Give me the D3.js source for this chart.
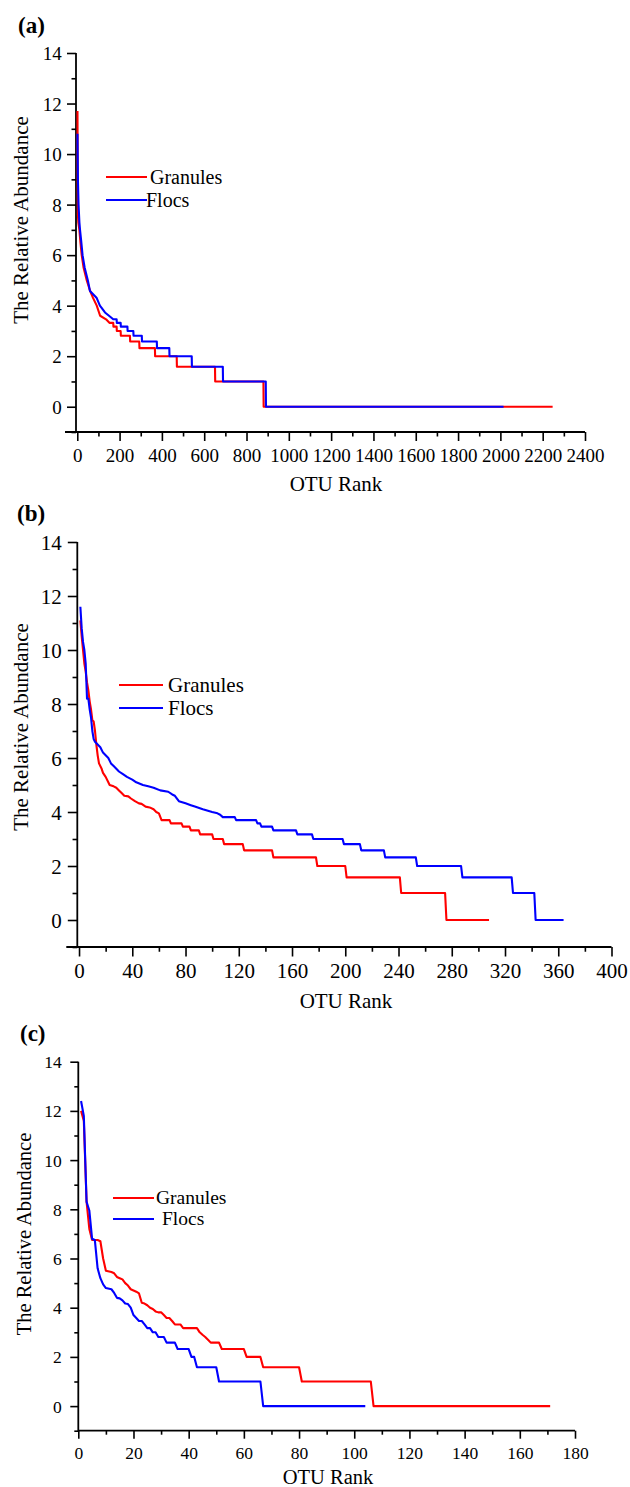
<!DOCTYPE html>
<html>
<head>
<meta charset="utf-8">
<script src="https://cdnjs.cloudflare.com/ajax/libs/d3/7.8.5/d3.min.js"></script>
</head>
<body style="margin:0; background:#fff">
<script>
// rank / abundance points, [OTU rank, value]
var granulesA = [[1,11.7],[2,9.0],[3,7.6],[5,7.3],[10,7.0],[15,6.5],[21,6.0],[30,5.5],[45,5.0],[60,4.6],[75,4.3],[92,4.0],[108,3.6],[136,3.46],[152,3.32],[170,3.32],[171,3.17],[186,3.17],[187,3.0],[205,3.0],[206,2.81],[249,2.81],[250,2.58],[293,2.58],[294,2.32],[367,2.32],[368,2.0],[470,2.0],[471,1.58],[651,1.58],[652,1.0],[880,1.0],[881,0],[2247,0]];
var flocsA = [[1,10.8],[3,9.0],[6,8.0],[10,7.3],[13,7.0],[18,6.6],[25,6.0],[35,5.5],[50,5.0],[60,4.58],[75,4.45],[92,4.3],[107,4.0],[131,3.73],[150,3.6],[170,3.46],[186,3.46],[187,3.32],[205,3.32],[206,3.17],[237,3.17],[238,3.0],[265,3.0],[266,2.81],[305,2.81],[306,2.58],[376,2.58],[377,2.32],[435,2.32],[436,2.0],[541,2.0],[542,1.58],[688,1.58],[689,1.0],[891,1.0],[892,0],[2015,0]];

var granulesB = [[1,11.1],[2,10.5],[3,10.0],[4,9.5],[5,9.2],[6,8.8],[7,8.5],[8,8.1],[9,7.8],[10,7.4],[11,7.35],[12,7.0],[13,6.5],[14,6.1],[15,5.8],[17,5.6],[18,5.45],[20,5.3],[22,5.1],[23,5.0],[26,4.95],[28,4.9],[30,4.8],[32,4.7],[34,4.6],[37,4.58],[39,4.5],[42,4.4],[45,4.32],[47,4.3],[50,4.2],[53,4.17],[56,4.1],[58,4.0],[60,3.95],[62,3.7],[68,3.7],[69,3.58],[77,3.58],[78,3.46],[83,3.46],[84,3.32],[90,3.32],[91,3.17],[100,3.17],[101,3.0],[108,3.0],[109,2.81],[123,2.81],[124,2.58],[145,2.58],[146,2.32],[178,2.32],[179,2.0],[200,2.0],[201,1.58],[241,1.58],[242,1.0],[275,1.0],[276,0],[308,0]];
var flocsB = [[1,11.6],[2,10.8],[3,10.3],[4,10.0],[5,9.5],[6,8.2],[7,8.2],[8,7.8],[9,7.5],[10,7.0],[11,6.7],[12,6.6],[14,6.5],[16,6.4],[18,6.2],[20,6.1],[22,6.0],[24,5.8],[26,5.7],[28,5.6],[30,5.5],[33,5.4],[36,5.3],[40,5.2],[43,5.1],[48,5.0],[52,4.95],[56,4.9],[61,4.8],[67,4.75],[70,4.65],[72,4.6],[75,4.4],[80,4.32],[84,4.25],[87,4.2],[93,4.1],[100,4.0],[104,3.95],[106,3.9],[108,3.81],[117,3.81],[118,3.7],[133,3.7],[134,3.58],[136,3.58],[137,3.46],[145,3.46],[146,3.32],[163,3.32],[164,3.17],[175,3.17],[176,3.0],[198,3.0],[199,2.81],[211,2.81],[212,2.58],[229,2.58],[230,2.32],[253,2.32],[254,2.0],[287,2.0],[288,1.58],[325,1.58],[326,1.0],[342,1.0],[343,0],[364,0]];

var granulesC = [[1,12.0],[2,11.6],[3,8.3],[4,7.2],[5,6.75],[7,6.75],[8,6.7],[9,6.0],[10,5.5],[12,5.45],[13,5.4],[14,5.25],[15,5.2],[16,5.15],[17,5.0],[18,4.9],[19,4.75],[20,4.7],[21,4.65],[22,4.58],[23,4.2],[24,4.17],[25,4.1],[26,4.0],[27,3.95],[28,3.85],[29,3.81],[30,3.81],[31,3.7],[32,3.58],[33,3.58],[34,3.46],[35,3.32],[37,3.32],[38,3.17],[43,3.17],[44,3.0],[45,2.9],[46,2.81],[47,2.7],[48,2.58],[51,2.58],[52,2.32],[60,2.32],[61,2.0],[66,2.0],[67,1.58],[80,1.58],[81,1.0],[106,1.0],[107,0],[171,0]];
var flocsC = [[1,12.4],[2,11.8],[3,8.3],[4,7.95],[5,6.8],[6,6.75],[7,5.6],[8,5.2],[9,4.95],[10,4.8],[12,4.75],[13,4.6],[14,4.4],[15,4.38],[16,4.3],[17,4.17],[18,4.15],[19,4.0],[20,3.7],[21,3.58],[22,3.46],[23,3.46],[24,3.32],[25,3.17],[26,3.17],[27,3.0],[28,3.0],[29,2.81],[31,2.81],[32,2.58],[35,2.58],[36,2.32],[40,2.32],[41,2.0],[42,2.0],[43,1.58],[50,1.58],[51,1.0],[66,1.0],[67,0],[104,0]];

var seriesNames = ["Granules", "Flocs"];
var seriesColors = ["#ff0000", "#0000ff"];

var yMajor = [0, 2, 4, 6, 8, 10, 12, 14];
var yMinor = [-1, 1, 3, 5, 7, 9, 11, 13];
var xMajorA = d3.range(0, 2401, 200), xMinorA = d3.range(100, 2400, 200);
var xMajorB = d3.range(0, 401, 40), xMinorB = d3.range(20, 400, 40);
var xMajorC = d3.range(0, 181, 20), xMinorC = d3.range(10, 180, 20);

var serif = "'Liberation Serif', serif";

var svg = d3.select("body").append("svg")
    .attr("width", 630)
    .attr("height", 1487);

// layout of the three stacked panels
var panels = [
  { label: "(a)", lx: 18, ly: 33, data: [granulesA, flocsA],
    xDom: [-6, 2400], xRng: [76, 585], yRng: [432, 53],
    xMajor: xMajorA, xMinor: xMinorA, tick: 19, tickLen: 9, xLab: 29.7, yLab: 14.3, ext: 11,
    legX: [106, 147], legY: [177, 200], legTx: [150, 146], legFont: 20,
    title: 21, xtX: 336, xtY: 491, ytX: 28, ytY: 220 },
  { label: "(b)", lx: 17, ly: 521, data: [granulesB, flocsB],
    xDom: [-1.3, 400], xRng: [77.3, 611.5], yRng: [947, 542],
    xMajor: xMajorB, xMinor: xMinorB, tick: 21, tickLen: 9.5, xLab: 31, yLab: 15.6, ext: 11,
    legX: [119, 163], legY: [685, 708], legTx: [168, 168], legFont: 21,
    title: 21, xtX: 346, xtY: 1008, ytX: 28, ytY: 727 },
  { label: "(c)", lx: 20, ly: 1041, data: [granulesC, flocsC],
    xDom: [0, 180], xRng: [78.3, 575], yRng: [1430.7, 1061.7],
    xMajor: xMajorC, xMinor: xMinorC, tick: 17.5, tickLen: 8, xLab: 28.6, yLab: 16.6, ext: 0,
    legX: [113, 154], legY: [1198, 1219], legTx: [156, 162], legFont: 19.5,
    title: 20.5, xtX: 328, xtY: 1484, ytX: 31, ytY: 1234 }
];

panels.forEach(function(p) {
  var x = d3.scaleLinear().domain(p.xDom).range(p.xRng);
  var y = d3.scaleLinear().domain([-1, 14]).range(p.yRng);
  var g = svg.append("g");

  // minor ticks first, no labels
  g.append("g")
    .attr("transform", `translate(0,${p.yRng[0]})`)
    .call(d3.axisBottom(x).tickValues(p.xMinor).tickSize(p.tickLen / 2).tickFormat(""))
    .call(a => a.select(".domain").remove());
  g.append("g")
    .attr("transform", `translate(${p.xRng[0]},0)`)
    .call(d3.axisLeft(y).tickValues(yMinor).tickSize(p.tickLen / 2).tickFormat(""))
    .call(a => a.select(".domain").remove());

  var xAxis = g.append("g")
    .attr("transform", `translate(0,${p.yRng[0]})`)
    .call(d3.axisBottom(x).tickValues(p.xMajor).tickSize(p.tickLen).tickFormat(d3.format("d")));
  xAxis.select(".domain").remove();
  xAxis.attr("font-family", null).attr("font-size", null);
  xAxis.selectAll("text")
    .attr("y", p.xLab).attr("dy", null)
    .style("font-size", p.tick + "px");

  var yAxis = g.append("g")
    .attr("transform", `translate(${p.xRng[0]},0)`)
    .call(d3.axisLeft(y).tickValues(yMajor).tickSize(p.tickLen));
  yAxis.select(".domain").remove();
  yAxis.attr("font-family", null).attr("font-size", null);
  yAxis.selectAll("text")
    .attr("x", -p.yLab).attr("dy", "0.34em")
    .style("font-size", p.tick + "px");

  g.selectAll(".tick line").attr("stroke", "#000").attr("stroke-width", 1.6);

  // axis lines
  g.append("line")
    .attr("x1", p.xRng[0] - p.ext).attr("x2", p.xRng[1])
    .attr("y1", p.yRng[0]).attr("y2", p.yRng[0])
    .attr("stroke", "#000").attr("stroke-width", 1.8);
  g.append("line")
    .attr("x1", p.xRng[0]).attr("x2", p.xRng[0])
    .attr("y1", p.yRng[0] + 0.9).attr("y2", p.yRng[1])
    .attr("stroke", "#000").attr("stroke-width", 1.8);

  var line = d3.line()
    .x(d => x(d[0]))
    .y(d => y(d[1]));

  p.data.forEach(function(s, i) {
    g.append("path")
      .datum(s)
      .attr("d", line)
      .attr("fill", "none")
      .attr("stroke", seriesColors[i])
      .attr("stroke-width", 2.1)
      .attr("stroke-linejoin", "round");
  });

  // legend
  seriesNames.forEach(function(n, i) {
    g.append("line")
      .attr("x1", p.legX[0]).attr("x2", p.legX[1])
      .attr("y1", p.legY[i]).attr("y2", p.legY[i])
      .attr("stroke", seriesColors[i]).attr("stroke-width", 2.1);
    g.append("text")
      .attr("x", p.legTx[i]).attr("y", p.legY[i])
      .attr("dy", "0.33em")
      .style("font-size", p.legFont + "px")
      .text(n);
  });

  g.append("text")
    .attr("x", p.xtX).attr("y", p.xtY)
    .attr("text-anchor", "middle")
    .style("font-size", p.title + "px")
    .text("OTU Rank");

  g.append("text")
    .attr("transform", `translate(${p.ytX},${p.ytY}) rotate(-90)`)
    .attr("text-anchor", "middle")
    .style("font-size", p.title + "px")
    .text("The Relative Abundance");

  g.append("text")
    .attr("x", p.lx).attr("y", p.ly)
    .style("font-size", "23px")
    .style("font-weight", "bold")
    .text(p.label);

  g.selectAll("text")
    .style("font-family", serif)
    .attr("fill", "#000");
});
</script>
</body>
</html>
